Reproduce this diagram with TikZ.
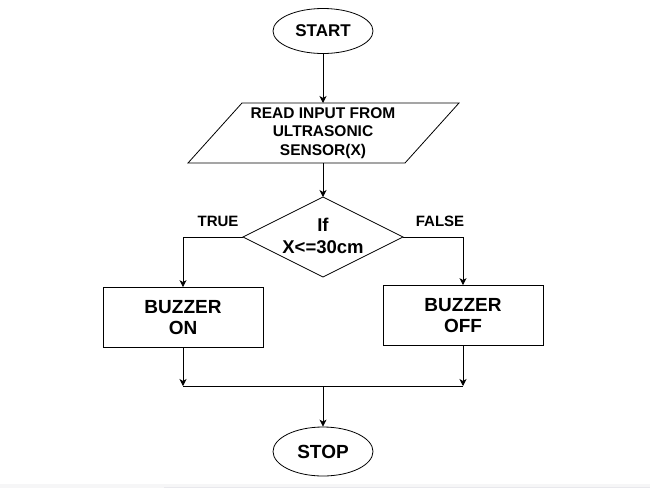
\documentclass[tikz,border=0pt]{standalone}
\usepackage{fontspec}
\setmainfont{Liberation Sans}
\usetikzlibrary{arrows.meta,shapes.geometric}
\definecolor{stripA}{HTML}{F6F6F7}
\definecolor{stripB}{HTML}{E8E8EC}
\begin{document}
\begin{tikzpicture}[x=1pt,y=-1pt,
  every path/.style={line width=0.8pt},
  arr/.style={-{Stealth[length=7pt,width=7pt,inset=2pt]}},
  ell/.style={draw,ellipse,inner sep=0pt,minimum width=100pt,minimum height=45pt},
  procbox/.style={draw,rectangle,inner sep=0pt,minimum width=160pt,minimum height=60pt,align=center,font=\bfseries\fontsize{19}{20.5}\selectfont},
  lbl/.style={inner sep=0pt,font=\bfseries\fontsize{15}{17}\selectfont}]
\useasboundingbox (0,0) rectangle (650,488);
\fill[white] (0,0) rectangle (650,488);
\fill[stripA] (0,484) rectangle (650,488);
\fill[stripB] (164,486.5) rectangle (650,488);

\node[ell,font=\bfseries\fontsize{17}{20}\selectfont] (start) at (323,31) {START};

\draw (242,103) -- (459,103) -- (405,163) -- (188,163) -- cycle;
\coordinate (ptop) at (323,103);
\coordinate (pbot) at (323,163);
\node[align=center,inner sep=0pt,font=\bfseries\fontsize{15.5}{18.3}\selectfont] (read) at (323,133) {READ INPUT FROM\\ULTRASONIC\\SENSOR(X)};

\draw (323,197) -- (403,237) -- (323,277) -- (243,237) -- cycle;
\coordinate (dtop) at (323,197);
\coordinate (dleft) at (243,237);
\coordinate (dright) at (403,237);
\node[align=center,inner sep=0pt,font=\bfseries\fontsize{18.5}{21.5}\selectfont] (cond) at (323,236) {If\\X<=30cm};

\node[lbl] (true) at (218,221) {TRUE};
\node[lbl] (false) at (440,221) {FALSE};

\node[procbox] (on) at (183,317.5) {BUZZER\\ON};
\node[procbox] (off) at (463,315.5) {BUZZER\\OFF};

\coordinate (m1) at (183,386);
\coordinate (m2) at (463,386);
\coordinate (mc) at (323,386);

\node[ell,minimum height=49pt,font=\bfseries\fontsize{19}{22}\selectfont] (stop) at (323,451.5) {STOP};

\draw[arr] (start) -- (ptop);
\draw[arr] (pbot) -- (dtop);
\draw[arr] (dleft) -| (on);
\draw[arr] (dright) -| (off);
\draw[arr] (on) -- (m1);
\draw[arr] (off) -- (m2);
\draw (m1) -- (m2);
\draw[arr] (mc) -- (stop);
\end{tikzpicture}
\end{document}
